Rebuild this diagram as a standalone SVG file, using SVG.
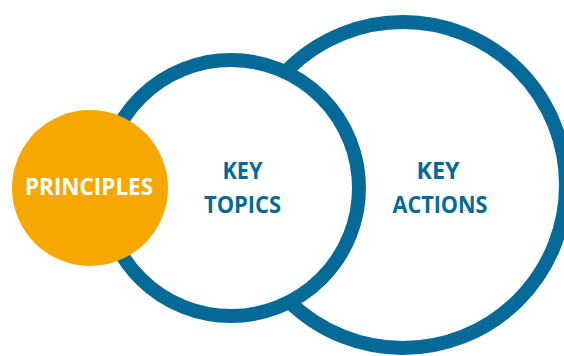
<svg xmlns="http://www.w3.org/2000/svg" width="564" height="356" viewBox="0 0 564 356">
<style>
.ring{fill:#fff;stroke:#066A99;stroke-width:14}
.lbl{font-family:"Open Sans","Liberation Sans",sans-serif;font-weight:bold;font-size:24px;text-anchor:middle}
.blue{fill:#066A99}
.white{fill:#fff}
</style>
<rect width="564" height="356" fill="#fff"/>
<g id="connectors"></g>
<g id="key-actions">
<circle class="ring" cx="403" cy="185" r="163"/>
<text class="lbl blue" x="438" y="179" textLength="43" lengthAdjust="spacingAndGlyphs">KEY</text>
<text class="lbl blue" x="440" y="212.5" textLength="95" lengthAdjust="spacingAndGlyphs">ACTIONS</text>
</g>
<g id="key-topics">
<circle class="ring" cx="231" cy="188" r="128"/>
<text class="lbl blue" x="242.5" y="179" textLength="40" lengthAdjust="spacingAndGlyphs">KEY</text>
<text class="lbl blue" x="242.5" y="212.5" textLength="77" lengthAdjust="spacingAndGlyphs">TOPICS</text>
</g>
<g id="principles">
<circle cx="90" cy="188" r="78" fill="#F6A800"/>
<text class="lbl white" x="89" y="195" textLength="128" lengthAdjust="spacingAndGlyphs">PRINCIPLES</text>
</g>
</svg>
